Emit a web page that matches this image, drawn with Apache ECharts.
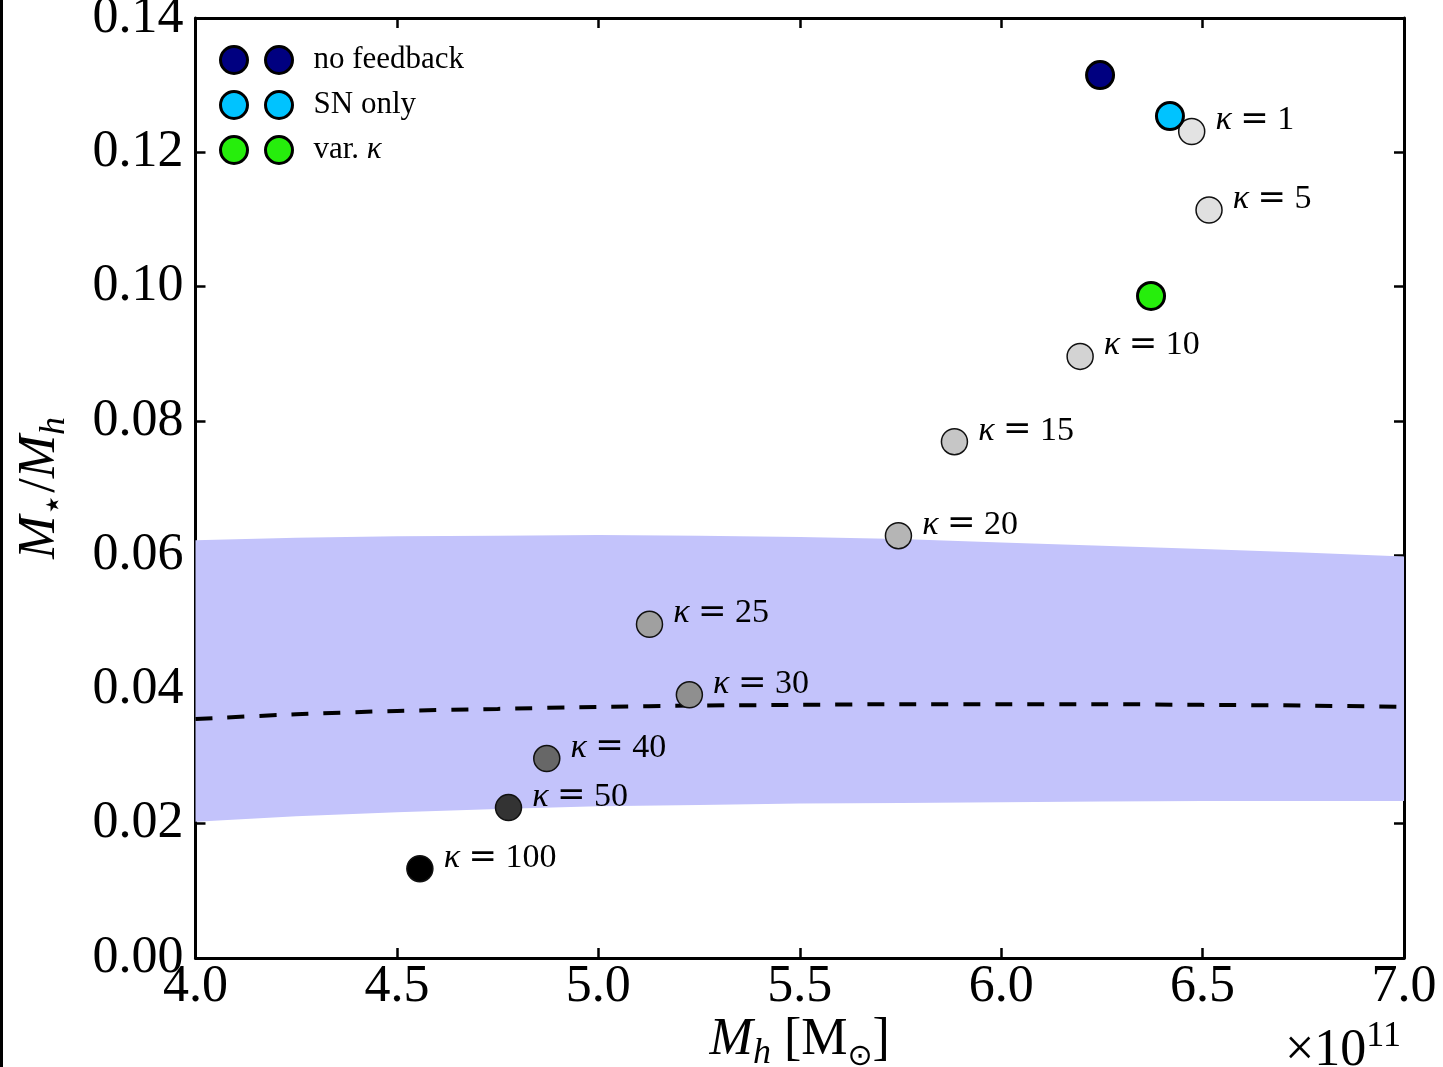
<!DOCTYPE html>
<html><head><meta charset="utf-8">
<script src="https://cdn.jsdelivr.net/npm/echarts@6/dist/echarts.min.js"></script>
<style>html,body{margin:0;padding:0;background:#fff}#c{width:1443px;height:1067px}</style>
</head><body><div id="c"></div>
<script>
// ---- data ----
const kappaValues = [1, 5, 10, 15, 20, 25, 30, 40, 50, 100];
const kappaMh     = [6.473, 6.516, 6.196, 5.884, 5.745, 5.127, 5.226, 4.872, 4.777, 4.557];
const kappaRatio  = [0.1231, 0.1114, 0.0896, 0.0769, 0.0629, 0.0497, 0.0392, 0.0297, 0.0224, 0.0133];
const noFeedback  = [6.2455, 0.1315];
const snOnly      = [6.419, 0.1254];
const varKappa    = [6.372, 0.0986];
const bandMh      = [4.0, 4.25, 4.5, 4.75, 5.0, 5.25, 5.5, 5.75, 6.0, 6.25, 6.5, 6.75, 7.0];
const bandLower   = [0.0203, 0.0211, 0.0217, 0.0222, 0.0226, 0.0228, 0.0230, 0.0231, 0.0232, 0.0233, 0.0234, 0.0234, 0.0234];
const bandUpper   = [0.0622, 0.0626, 0.0628, 0.0629, 0.0630, 0.0629, 0.0627, 0.0624, 0.0619, 0.0614, 0.0609, 0.0604, 0.0598];
const meanRatio   = [0.0356, 0.0363, 0.0368, 0.0371, 0.0374, 0.0376, 0.0377, 0.0378, 0.0378, 0.0378, 0.0377, 0.0376, 0.0374];
const seriesNames = ['no feedback', 'SN only', 'var. κ'];

// ---- styles ----
const kappaGrays = ['#e3e3e3', '#e0e0e0', '#d3d3d3', '#c6c6c6', '#b5b5b5', '#a0a0a0', '#8f8f8f', '#676767', '#333333', '#000000'];
const FONT = '"Liberation Serif", "DejaVu Serif", serif';
const BIG = 52;

const chart = echarts.init(document.getElementById('c'), null, {renderer: 'canvas'});

const bandData = bandMh.map((x, i) => [x, bandLower[i], bandUpper[i]]);
const meanData = bandMh.map((x, i) => [x, meanRatio[i]]);
const kappaData = kappaValues.map((k, i) => ({
  value: [kappaMh[i], kappaRatio[i]],
  kappa: k,
  itemStyle: {color: kappaGrays[i]}
}));

const axisLine = {show: true, onZero: false, lineStyle: {color: '#000', width: 3}};
const axisTick = {show: true, inside: true, length: 10, lineStyle: {color: '#000', width: 2.5}};

const nameRich = {
  i: {fontFamily: FONT, fontStyle: 'italic', fontSize: BIG, lineHeight: 64, color: '#000'},
  n: {fontFamily: FONT, fontSize: BIG, lineHeight: 64, color: '#000'},
  sub: {fontFamily: FONT, fontSize: 36, lineHeight: 36, verticalAlign: 'bottom', color: '#000'},
  subi: {fontFamily: FONT, fontStyle: 'italic', fontSize: 36, lineHeight: 36, verticalAlign: 'bottom', color: '#000'},
  subs: {fontFamily: '"DejaVu Sans", sans-serif', fontSize: 30, lineHeight: 34, verticalAlign: 'bottom', color: '#000'}
};

const legendIcon = 'path://M0,13.5a13.5,13.5 0 1,0 27,0a13.5,13.5 0 1,0 -27,0zM45,13.5a13.5,13.5 0 1,0 27,0a13.5,13.5 0 1,0 -27,0z';

chart.setOption({
  animation: false,
  backgroundColor: '#fff',
  grid: {left: 195.5, right: 39, top: 18, bottom: 109, containLabel: false, outerBoundsMode: 'none'},
  legend: {
    data: seriesNames,
    orient: 'vertical',
    left: 214, top: 39.5,
    itemWidth: 72, itemHeight: 27, itemGap: 14,
    icon: legendIcon,
    selectedMode: false,
    itemStyle: {borderColor: '#000', borderWidth: 3},
    formatter: n => n.replace('κ', '{k|κ}'),
    textStyle: {
      fontFamily: FONT, fontSize: 31, color: '#000', padding: [0, 0, 0, 16],
      rich: {k: {fontFamily: FONT, fontStyle: 'italic', fontSize: 31, color: '#000'}}
    }
  },
  xAxis: [
    {
      type: 'value', min: 4, max: 7, interval: 0.5, position: 'bottom',
      axisLine, axisTick, splitLine: {show: false},
      axisLabel: {fontFamily: FONT, fontSize: BIG, color: '#000', margin: 3, formatter: v => v.toFixed(1)},
      name: '{i|M}{subi|h} {n|[M}{subs|⊙}{n|]}',
      nameLocation: 'middle', nameGap: 50, nameMoveOverlap: false,
      nameTextStyle: {fontFamily: FONT, fontSize: BIG, color: '#000', rich: nameRich}
    },
    {
      type: 'value', min: 4, max: 7, interval: 0.5, position: 'top',
      axisLine, axisTick, splitLine: {show: false}, axisLabel: {show: false}
    }
  ],
  yAxis: [
    {
      type: 'value', min: 0, max: 0.14, interval: 0.02, position: 'left',
      axisLine, axisTick, splitLine: {show: false},
      axisLabel: {fontFamily: FONT, fontSize: BIG, color: '#000', margin: 12, formatter: v => v.toFixed(2)},
      name: '{i|M}{sub|⋆}{n|/}{i|M}{subi|h}',
      nameLocation: 'middle', nameGap: 123, nameMoveOverlap: false,
      nameTextStyle: {fontFamily: FONT, fontSize: BIG, color: '#000', rich: nameRich}
    },
    {
      type: 'value', min: 0, max: 0.14, interval: 0.02, position: 'right',
      axisLine, axisTick, splitLine: {show: false}, axisLabel: {show: false}
    }
  ],
  graphic: [
    {type: 'rect', shape: {x: 0, y: 0, width: 3, height: 1067}, style: {fill: '#000'}, z: 100},
    {
      type: 'text', x: 1401, y: 1019, z: 100,
      style: {
        text: '{n|×10}{sup|11}', align: 'right', verticalAlign: 'top',
        rich: {
          n: {fontFamily: FONT, fontSize: BIG, lineHeight: 64, fill: '#000'},
          sup: {fontFamily: FONT, fontSize: 36, lineHeight: 36, verticalAlign: 'top', fill: '#000'}
        }
      }
    }
  ],
  series: [
    {
      name: 'band', type: 'custom', data: bandData, silent: true, z: 1,
      encode: {x: 0, y: [1, 2]},
      renderItem: (params, api) => {
        if (params.dataIndex !== 0) return null;
        const pts = [];
        for (let i = 0; i < bandMh.length; i++) pts.push(api.coord([bandMh[i], bandUpper[i]]));
        for (let i = bandMh.length - 1; i >= 0; i--) pts.push(api.coord([bandMh[i], bandLower[i]]));
        return {type: 'polygon', shape: {points: pts}, style: {fill: '#c3c3fb'}};
      }
    },
    {
      name: 'mean', type: 'line', data: meanData, smooth: 0.3, symbol: 'none',
      lineStyle: {color: '#000', width: 4, type: [17, 15]}, silent: true, z: 2
    },
    {
      name: 'kappa', type: 'scatter', data: kappaData, symbol: 'circle', symbolSize: 26, z: 3,
      itemStyle: {borderColor: '#111', borderWidth: 1.5, opacity: 1},
      label: {
        show: true, position: 'right', distance: 10, offset: [0, -11],
        formatter: p => '{k|κ} {e|=} ' + p.data.kappa,
        fontFamily: FONT, fontSize: 34, color: '#000',
        rich: {
          k: {fontFamily: FONT, fontStyle: 'italic', fontSize: 34, color: '#000'},
          e: {fontFamily: '"DejaVu Serif", serif', fontSize: 34, color: '#000'}
        }
      }
    },
    {
      name: seriesNames[0], type: 'scatter', data: [noFeedback], symbol: 'circle', symbolSize: 27, z: 4,
      itemStyle: {color: '#000080', borderColor: '#000', borderWidth: 3, opacity: 1}
    },
    {
      name: seriesNames[1], type: 'scatter', data: [snOnly], symbol: 'circle', symbolSize: 27, z: 4,
      itemStyle: {color: '#00c3ff', borderColor: '#000', borderWidth: 3, opacity: 1}
    },
    {
      name: seriesNames[2], type: 'scatter', data: [varKappa], symbol: 'circle', symbolSize: 27, z: 4,
      itemStyle: {color: '#26ee0c', borderColor: '#000', borderWidth: 3, opacity: 1}
    }
  ]
});
</script>
</body></html>
